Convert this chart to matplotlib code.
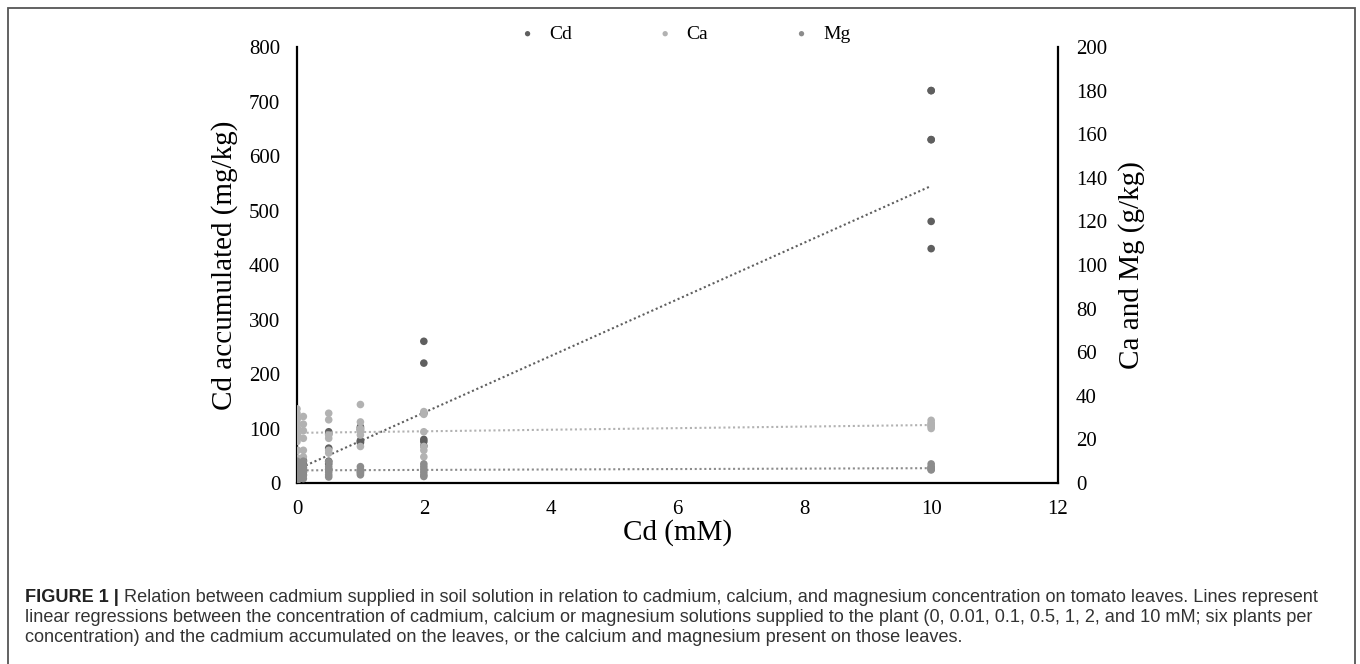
import numpy as np
import matplotlib
matplotlib.use("Agg")
import matplotlib.pyplot as plt
from matplotlib.patches import Rectangle

# Cd supplied (mM), six plants per level
levels = [0, 0.01, 0.1, 0.5, 1, 2, 10]

# Cd accumulated on leaves (mg/kg), left axis
cd_vals = [
    [3, 8, 12, 18, 25, 30],
    [10, 15, 22, 28, 35, 40],
    [15, 20, 28, 35, 40, 42],
    [25, 35, 40, 64, 90, 94],
    [74, 76, 78, 97, 100, 103],
    [68, 76, 80, 128, 220, 260],
    [430, 480, 630, 720, 720, 630],
]
# Ca and Mg on leaves (g/kg), right axis
ca_vals = [
    [34, 32, 29, 27.5, 24, 19],
    [30, 25, 22, 21, 15, 11.5],
    [30.5, 27, 24, 20.5, 15, 12],
    [32, 29, 22, 20.5, 15, 13.75],
    [36, 28, 25, 23.75, 22, 16.75],
    [32.75, 31.5, 23.5, 16.75, 15, 12],
    [28.75, 27.5, 26.25, 25, 27, 26],
]
mg_vals = [
    [10, 8, 6, 5, 4, 2],
    [9, 7, 5.5, 4, 3, 1.5],
    [10, 8, 6.5, 5, 3.5, 2],
    [9.75, 7.5, 6.25, 5, 3.75, 2.75],
    [7.5, 6.25, 5.5, 5, 4.5, 3.75],
    [8.75, 7.5, 6.25, 5, 3.75, 3],
    [8.75, 7.5, 6.75, 6.25, 7, 6],
]
# linear trend lines (slope, intercept)
cd_fit = (52.0, 25.0)
ca_fit = (0.36, 23.0)
mg_fit = (0.10, 5.8)

names = ["Cd", "Ca", "Mg"]
colors = ["#5f5f5f", "#b2b2b2", "#8c8c8c"]

W, H = 1360, 664
fig = plt.figure(figsize=(W / 100, H / 100), dpi=100)
plt.rcParams["font.family"] = ["Liberation Serif", "DejaVu Serif"]

ax = fig.add_axes([297 / W, 1 - 483 / H, (1058 - 297) / W, (483 - 47) / H])
ax2 = ax.twinx()


def flat(vals):
    xs = []
    ys = []
    for lv, row in zip(levels, vals):
        for v in row:
            xs.append(lv)
            ys.append(v)
    return xs, ys


xfit = np.array([levels[0], levels[-1]])
handles = []
for a, vals, fit, name, c in [(ax, cd_vals, cd_fit, "Cd", colors[0]),
                              (ax2, ca_vals, ca_fit, "Ca", colors[1]),
                              (ax2, mg_vals, mg_fit, "Mg", colors[2])]:
    xs, ys = flat(vals)
    h = a.scatter(xs, ys, s=30, color=c, edgecolors="none", label=name, zorder=3)
    a.plot(xfit, fit[0] * xfit + fit[1], color=c, lw=1.5,
           linestyle=(0, (1, 1.3)), zorder=2)
    handles.append(h)

ax.set_xlim(0, 12)
ax.set_ylim(0, 800)
ax2.set_ylim(0, 200)
ax.set_xticks(range(0, 13, 2))
ax.set_yticks(range(0, 801, 100))
ax2.set_yticks(range(0, 201, 20))

for a in (ax, ax2):
    a.spines["top"].set_visible(False)
    for s in ("left", "right", "bottom"):
        a.spines[s].set_linewidth(1.6)
        a.spines[s].set_color("black")
ax.spines["right"].set_visible(False)
ax2.spines["left"].set_visible(False)
ax2.spines["bottom"].set_visible(False)

ax.tick_params(axis="both", length=0, labelsize=15, pad=12)
ax2.tick_params(axis="y", length=0, labelsize=15, pad=13)

ax.set_xlabel("Cd (mM)", fontsize=21, labelpad=0)
ax.set_ylabel("Cd accumulated (mg/kg)", fontsize=21, labelpad=8)
ax2.set_ylabel("Ca and Mg (g/kg)", fontsize=21, labelpad=8)

fig.legend(handles=handles, labels=names, loc="center",
           bbox_to_anchor=(684 / W, 1 - 34 / H), ncol=3, frameon=False,
           fontsize=14, markerscale=0.7, handlelength=1.0, handletextpad=0.6,
           columnspacing=4.3, scatterpoints=1)

# outer frame of the figure panel
fig.patches.append(Rectangle((8 / W, -0.02), (1355 - 8) / W, 1 - 8 / H + 0.02,
                             transform=fig.transFigure, fill=False,
                             edgecolor="#555555", lw=1.3))

# caption
cap_font = ["Liberation Sans", "DejaVu Sans"]
cap_size = 13.1
x0 = 25 / W
lines = [
    "Relation between cadmium supplied in soil solution in relation to cadmium, calcium, and magnesium concentration on tomato leaves. Lines represent",
    "linear regressions between the concentration of cadmium, calcium or magnesium solutions supplied to the plant (0, 0.01, 0.1, 0.5, 1, 2, and 10 mM; six plants per",
    "concentration) and the cadmium accumulated on the leaves, or the calcium and magnesium present on those leaves.",
]
ys = [597, 617, 638]
t = fig.text(x0, 1 - ys[0] / H, "FIGURE 1 | ", family=cap_font, weight="bold",
             fontsize=cap_size, va="center", color="#222222")
r = fig.canvas.get_renderer()
bb = t.get_window_extent(renderer=r)
fig.text(bb.x1 / W, 1 - ys[0] / H, lines[0], family=cap_font,
         fontsize=cap_size, va="center", color="#333333")
for ln, y in zip(lines[1:], ys[1:]):
    fig.text(x0, 1 - y / H, ln, family=cap_font, fontsize=cap_size,
             va="center", color="#333333")

fig.savefig("out.png", dpi=100)
